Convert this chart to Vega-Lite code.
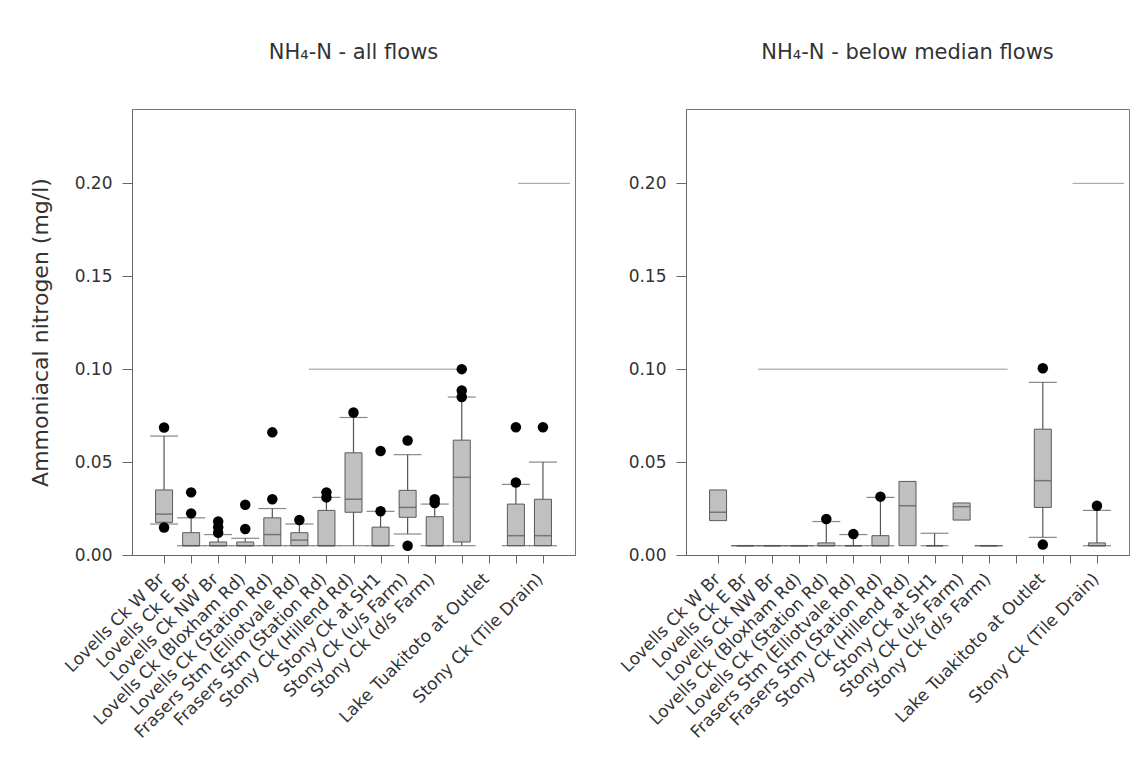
{
  "$schema": "https://vega.github.io/schema/vega-lite/v6.json",
  "background": "white",
  "padding": {"left": 28, "top": 41, "right": 0, "bottom": 0},
  "bounds": "flush",
  "spacing": 111,
  "config": {
    "font": "DejaVu Sans",
    "view": {"stroke": "#777", "strokeWidth": 1},
    "title": {"fontSize": 21, "fontWeight": "normal", "color": "#333", "offset": 46, "anchor": "middle"},
    "axis": {"grid": false, "domainColor": "#666", "tickColor": "#666", "labelColor": "#333", "titleColor": "#333", "titleFontWeight": "normal", "labelOverlap": false},
    "axisX": {"labelOverlap": false, "labelLimit": 400, "labelFlush": false, "labelBound": false}
  },
  "datasets": {
    "boxes": [
      {"panel": "all", "slot": 1, "lo": 0.0167, "q1": 0.0176, "med": 0.022, "q3": 0.035, "hi": 0.064},
      {"panel": "all", "slot": 2, "lo": 0.005, "q1": 0.005, "med": 0.005, "q3": 0.012, "hi": 0.020},
      {"panel": "all", "slot": 3, "lo": 0.005, "q1": 0.005, "med": 0.005, "q3": 0.007, "hi": 0.011},
      {"panel": "all", "slot": 4, "lo": 0.005, "q1": 0.005, "med": 0.005, "q3": 0.007, "hi": 0.009},
      {"panel": "all", "slot": 5, "lo": 0.005, "q1": 0.005, "med": 0.011, "q3": 0.020, "hi": 0.025},
      {"panel": "all", "slot": 6, "lo": 0.005, "q1": 0.005, "med": 0.008, "q3": 0.012, "hi": 0.0167},
      {"panel": "all", "slot": 7, "lo": 0.005, "q1": 0.005, "med": 0.005, "q3": 0.024, "hi": 0.031},
      {"panel": "all", "slot": 8, "lo": 0.005, "q1": 0.023, "med": 0.030, "q3": 0.055, "hi": 0.074},
      {"panel": "all", "slot": 9, "lo": 0.005, "q1": 0.005, "med": 0.005, "q3": 0.015, "hi": 0.0235},
      {"panel": "all", "slot": 10, "lo": 0.0113, "q1": 0.0203, "med": 0.0256, "q3": 0.0348, "hi": 0.054},
      {"panel": "all", "slot": 11, "lo": 0.005, "q1": 0.005, "med": 0.005, "q3": 0.0206, "hi": 0.0274},
      {"panel": "all", "slot": 12, "lo": 0.005, "q1": 0.007, "med": 0.0418, "q3": 0.0618, "hi": 0.085},
      {"panel": "all", "slot": 14, "lo": 0.005, "q1": 0.005, "med": 0.0104, "q3": 0.0274, "hi": 0.038},
      {"panel": "all", "slot": 15, "lo": 0.005, "q1": 0.005, "med": 0.0104, "q3": 0.030, "hi": 0.050},
      {"panel": "low", "slot": 1, "lo": null, "q1": 0.0185, "med": 0.023, "q3": 0.035, "hi": null},
      {"panel": "low", "slot": 2, "lo": 0.005, "q1": 0.005, "med": 0.005, "q3": 0.005, "hi": 0.005},
      {"panel": "low", "slot": 3, "lo": 0.005, "q1": 0.005, "med": 0.005, "q3": 0.005, "hi": 0.005},
      {"panel": "low", "slot": 4, "lo": 0.005, "q1": 0.005, "med": 0.005, "q3": 0.005, "hi": 0.005},
      {"panel": "low", "slot": 5, "lo": 0.005, "q1": 0.005, "med": 0.005, "q3": 0.0065, "hi": 0.018},
      {"panel": "low", "slot": 6, "lo": 0.005, "q1": 0.005, "med": 0.005, "q3": 0.005, "hi": 0.011},
      {"panel": "low", "slot": 7, "lo": 0.005, "q1": 0.005, "med": 0.005, "q3": 0.0104, "hi": 0.031},
      {"panel": "low", "slot": 8, "lo": null, "q1": 0.005, "med": 0.0265, "q3": 0.0396, "hi": null},
      {"panel": "low", "slot": 9, "lo": 0.005, "q1": 0.005, "med": 0.005, "q3": 0.005, "hi": 0.0117},
      {"panel": "low", "slot": 10, "lo": null, "q1": 0.0188, "med": 0.026, "q3": 0.028, "hi": null},
      {"panel": "low", "slot": 11, "lo": 0.005, "q1": 0.005, "med": 0.005, "q3": 0.005, "hi": 0.005},
      {"panel": "low", "slot": 13, "lo": 0.0095, "q1": 0.0256, "med": 0.040, "q3": 0.0677, "hi": 0.0929},
      {"panel": "low", "slot": 15, "lo": 0.005, "q1": 0.005, "med": 0.005, "q3": 0.0065, "hi": 0.024}
    ],
    "outliers": [
      {"panel": "all", "slot": 1, "value": 0.0686},
      {"panel": "all", "slot": 1, "value": 0.0148},
      {"panel": "all", "slot": 2, "value": 0.0224},
      {"panel": "all", "slot": 2, "value": 0.0337},
      {"panel": "all", "slot": 3, "value": 0.012},
      {"panel": "all", "slot": 3, "value": 0.015},
      {"panel": "all", "slot": 3, "value": 0.018},
      {"panel": "all", "slot": 4, "value": 0.014},
      {"panel": "all", "slot": 4, "value": 0.027},
      {"panel": "all", "slot": 5, "value": 0.030},
      {"panel": "all", "slot": 5, "value": 0.066},
      {"panel": "all", "slot": 6, "value": 0.0188},
      {"panel": "all", "slot": 7, "value": 0.031},
      {"panel": "all", "slot": 7, "value": 0.0337},
      {"panel": "all", "slot": 8, "value": 0.0767},
      {"panel": "all", "slot": 9, "value": 0.0235},
      {"panel": "all", "slot": 9, "value": 0.056},
      {"panel": "all", "slot": 10, "value": 0.005},
      {"panel": "all", "slot": 10, "value": 0.0616},
      {"panel": "all", "slot": 11, "value": 0.028},
      {"panel": "all", "slot": 11, "value": 0.030},
      {"panel": "all", "slot": 12, "value": 0.085},
      {"panel": "all", "slot": 12, "value": 0.0885},
      {"panel": "all", "slot": 12, "value": 0.100},
      {"panel": "all", "slot": 14, "value": 0.039},
      {"panel": "all", "slot": 14, "value": 0.0687},
      {"panel": "all", "slot": 15, "value": 0.0687},
      {"panel": "low", "slot": 5, "value": 0.0194},
      {"panel": "low", "slot": 6, "value": 0.0113},
      {"panel": "low", "slot": 7, "value": 0.0314},
      {"panel": "low", "slot": 13, "value": 0.1005},
      {"panel": "low", "slot": 13, "value": 0.0056},
      {"panel": "low", "slot": 15, "value": 0.0265}
    ],
    "refs": [
      {"panel": "all", "value": 0.10, "slot": 6.35, "slot_end": 11.95},
      {"panel": "all", "value": 0.20, "slot": 14.08, "slot_end": 16},
      {"panel": "low", "value": 0.10, "slot": 2.48, "slot_end": 11.7},
      {"panel": "low", "value": 0.20, "slot": 14.1, "slot_end": 16}
    ]
  },
  "hconcat": [
    {
      "width": 443,
      "height": 446,
      "title": "NH₄-N - all  flows",
      "encoding": {
        "x": {"field": "slot", "type": "quantitative", "scale": {"domain": [0, 16], "nice": false, "zero": false},
          "axis": {"values": [1,2,3,4,5,6,7,8,9,10,11,12,13,14,15], "title": null, "tickSize": 8, "labelAngle": -45, "labelAlign": "right", "labelBaseline": "middle", "labelFontSize": 17, "labelPadding": 13, "labelOffset": -3, "labelOverlap": false, "labelFlush": false, "labelBound": false, "labelLimit": 400,
            "labelExpr": "datum.value == 1 ? 'Lovells Ck W Br' : datum.value == 2 ? 'Lovells Ck E Br' : datum.value == 3 ? 'Lovells Ck NW Br' : datum.value == 4 ? 'Lovells Ck (Bloxham Rd)' : datum.value == 5 ? 'Lovells Ck (Station Rd)' : datum.value == 6 ? 'Frasers Stm (Elliotvale Rd)' : datum.value == 7 ? 'Frasers Stm (Station Rd)' : datum.value == 8 ? 'Stony Ck (Hillend Rd)' : datum.value == 9 ? 'Stony Ck at SH1' : datum.value == 10 ? 'Stony Ck (u/s Farm)' : datum.value == 11 ? 'Stony Ck (d/s Farm)' : datum.value == 13 ? 'Lake Tuakitoto at Outlet' : datum.value == 15 ? 'Stony Ck (Tile Drain)' : ''"}}
      },
      "layer": [
        {
          "data": {"name": "refs"},
          "transform": [{"filter": "datum.panel == 'all'"}],
          "mark": {"type": "rule", "color": "#9a9a9a", "strokeWidth": 1},
          "encoding": {
            "x2": {"field": "slot_end"},
            "y": {"field": "value", "type": "quantitative", "scale": {"domain": [0, 0.24], "nice": false},
              "axis": {"values": [0, 0.05, 0.1, 0.15, 0.2], "format": ".2f", "title": "Ammoniacal nitrogen (mg/l)", "titleFontSize": 22, "titlePadding": 22, "labelFontSize": 17, "labelPadding": 10, "tickSize": 10}}
          }
        },
        {
          "data": {"name": "boxes"},
          "transform": [{"filter": "datum.panel == 'all'"}],
          "layer": [
            {"mark": {"type": "rule", "color": "#555", "strokeWidth": 1.2},
             "encoding": {"y": {"field": "lo", "type": "quantitative"}, "y2": {"field": "hi"}}},
            {"mark": {"type": "bar", "width": 17, "fill": "#c0c0c0", "stroke": "#5a5a5a", "strokeWidth": 1},
             "encoding": {"y": {"field": "q1", "type": "quantitative"}, "y2": {"field": "q3"}}},
            {"mark": {"type": "tick", "orient": "horizontal", "size": 17, "thickness": 1.5, "color": "#555"},
             "encoding": {"y": {"field": "med", "type": "quantitative"}}},
            {"mark": {"type": "tick", "orient": "horizontal", "size": 28, "thickness": 1.2, "color": "#555"},
             "encoding": {"y": {"field": "lo", "type": "quantitative"}}},
            {"mark": {"type": "tick", "orient": "horizontal", "size": 28, "thickness": 1.2, "color": "#555"},
             "encoding": {"y": {"field": "hi", "type": "quantitative"}}}
          ]
        },
        {
          "data": {"name": "outliers"},
          "transform": [{"filter": "datum.panel == 'all'"}],
          "mark": {"type": "circle", "size": 110, "color": "#000", "opacity": 1},
          "encoding": {"y": {"field": "value", "type": "quantitative"}}
        }
      ]
    },
    {
      "width": 443,
      "height": 446,
      "title": "NH₄-N - below median flows",
      "encoding": {
        "x": {"field": "slot", "type": "quantitative", "scale": {"domain": [0, 16], "nice": false, "zero": false},
          "axis": {"values": [1,2,3,4,5,6,7,8,9,10,11,12,13,14,15], "title": null, "tickSize": 8, "labelAngle": -45, "labelAlign": "right", "labelBaseline": "middle", "labelFontSize": 17, "labelPadding": 13, "labelOffset": -1, "labelOverlap": false, "labelFlush": false, "labelBound": false, "labelLimit": 400,
            "labelExpr": "datum.value == 1 ? 'Lovells Ck W Br' : datum.value == 2 ? 'Lovells Ck E Br' : datum.value == 3 ? 'Lovells Ck NW Br' : datum.value == 4 ? 'Lovells Ck (Bloxham Rd)' : datum.value == 5 ? 'Lovells Ck (Station Rd)' : datum.value == 6 ? 'Frasers Stm (Elliotvale Rd)' : datum.value == 7 ? 'Frasers Stm (Station Rd)' : datum.value == 8 ? 'Stony Ck (Hillend Rd)' : datum.value == 9 ? 'Stony Ck at SH1' : datum.value == 10 ? 'Stony Ck (u/s Farm)' : datum.value == 11 ? 'Stony Ck (d/s Farm)' : datum.value == 13 ? 'Lake Tuakitoto at Outlet' : datum.value == 15 ? 'Stony Ck (Tile Drain)' : ''"}}
      },
      "layer": [
        {
          "data": {"name": "refs"},
          "transform": [{"filter": "datum.panel == 'low'"}],
          "mark": {"type": "rule", "color": "#9a9a9a", "strokeWidth": 1},
          "encoding": {
            "x2": {"field": "slot_end"},
            "y": {"field": "value", "type": "quantitative", "scale": {"domain": [0, 0.24], "nice": false},
              "axis": {"values": [0, 0.05, 0.1, 0.15, 0.2], "format": ".2f", "title": null, "labelFontSize": 17, "labelPadding": 10, "tickSize": 10}}
          }
        },
        {
          "data": {"name": "boxes"},
          "transform": [{"filter": "datum.panel == 'low'"}],
          "layer": [
            {"mark": {"type": "rule", "color": "#555", "strokeWidth": 1.2},
             "encoding": {"y": {"field": "lo", "type": "quantitative"}, "y2": {"field": "hi"}}},
            {"mark": {"type": "bar", "width": 17, "fill": "#c0c0c0", "stroke": "#5a5a5a", "strokeWidth": 1},
             "encoding": {"y": {"field": "q1", "type": "quantitative"}, "y2": {"field": "q3"}}},
            {"mark": {"type": "tick", "orient": "horizontal", "size": 17, "thickness": 1.5, "color": "#555"},
             "encoding": {"y": {"field": "med", "type": "quantitative"}}},
            {"mark": {"type": "tick", "orient": "horizontal", "size": 28, "thickness": 1.2, "color": "#555"},
             "encoding": {"y": {"field": "lo", "type": "quantitative"}}},
            {"mark": {"type": "tick", "orient": "horizontal", "size": 28, "thickness": 1.2, "color": "#555"},
             "encoding": {"y": {"field": "hi", "type": "quantitative"}}}
          ]
        },
        {
          "data": {"name": "outliers"},
          "transform": [{"filter": "datum.panel == 'low'"}],
          "mark": {"type": "circle", "size": 110, "color": "#000", "opacity": 1},
          "encoding": {"y": {"field": "value", "type": "quantitative"}}
        }
      ]
    }
  ]
}
